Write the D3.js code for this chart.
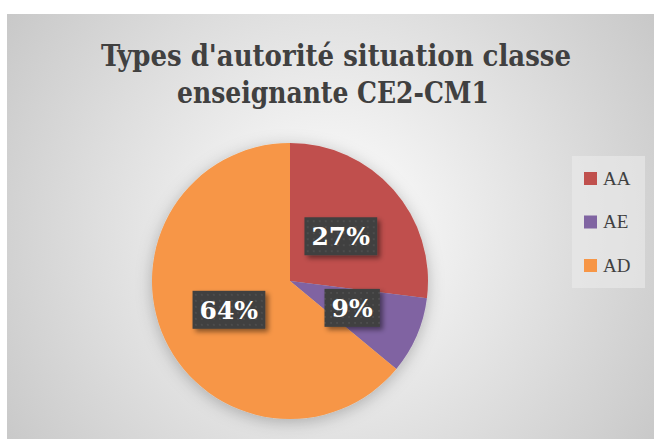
<!DOCTYPE html>
<html>
  <head>
    <meta charset="utf-8">
    <title>Types d'autorité</title>
    <script src="https://cdn.jsdelivr.net/npm/d3@7"></script>
    <style>
      body { margin: 0; background: #fff; }
      svg { display: block; }
    </style>
  </head>
  <body>
    <svg id="chart" width="654" height="439"></svg>
    <script>
      // data
      var categories = ["AA", "AE", "AD"];
      var values = [27, 9, 64];
      var colours = ["#C0504D", "#8064A2", "#F79646"];
      var titleLines = ["Types d'autorité situation classe", "enseignante CE2-CM1"];

      var svg = d3.select("#chart");
      var defs = svg.append("defs");

      // background gradient
      var bg = defs.append("radialGradient")
        .attr("id", "bg")
        .attr("gradientUnits", "userSpaceOnUse")
        .attr("cx", 330).attr("cy", 230).attr("r", 420);
      bg.append("stop").attr("offset", "0%").attr("stop-color", "#ffffff");
      bg.append("stop").attr("offset", "100%").attr("stop-color", "#c4c4c4");

      // label box pattern
      var pat = defs.append("pattern")
        .attr("id", "dots")
        .attr("patternUnits", "userSpaceOnUse")
        .attr("width", 6).attr("height", 6);
      pat.append("rect").attr("width", 6).attr("height", 6).attr("fill", "#3f3f3f");
      pat.append("rect").attr("x", 2).attr("y", 2).attr("width", 2).attr("height", 2).attr("fill", "#4d4d4d");

      var shadow = defs.append("filter").attr("id", "shadow")
        .attr("x", "-30%").attr("y", "-30%").attr("width", "160%").attr("height", "160%");
      shadow.append("feDropShadow")
        .attr("dx", 3).attr("dy", 3).attr("stdDeviation", 2.5)
        .attr("flood-color", "#000").attr("flood-opacity", 0.45);

      var pieShadow = defs.append("filter").attr("id", "pieShadow")
        .attr("x", "-30%").attr("y", "-30%").attr("width", "160%").attr("height", "160%");
      pieShadow.append("feDropShadow")
        .attr("dx", 0).attr("dy", 3).attr("stdDeviation", 8)
        .attr("flood-color", "#000").attr("flood-opacity", 0.25);

      svg.append("rect")
        .attr("x", 7).attr("y", 14)
        .attr("width", 647).attr("height", 425)
        .attr("fill", "url(#bg)");

      // title
      var titleWidths = [470, 312];
      var titleX = [336, 333];
      svg.append("text")
        .attr("text-anchor", "middle")
        .style("font-family", "'DejaVu Serif Condensed', 'DejaVu Serif', serif")
        .style("font-weight", "bold")
        .style("font-size", "30px")
        .style("fill", "#404040")
        .selectAll("tspan")
        .data(titleLines)
        .enter().append("tspan")
          .attr("x", function(d, i) { return titleX[i]; })
          .attr("y", function(d, i) { return 66 + i * 37; })
          .attr("textLength", function(d, i) { return titleWidths[i]; })
          .attr("lengthAdjust", "spacingAndGlyphs")
          .text(function(d) { return d; });

      // pie
      var cx = 290, cy = 281, radius = 138;
      var pie = d3.pie().sort(null).value(function(d) { return d; });
      var arc = d3.arc().innerRadius(0).outerRadius(radius);
      var arcs = pie(values);

      var pieGroup = svg.append("g")
        .attr("transform", "translate(" + cx + "," + cy + ")");
      pieGroup.append("g")
        .attr("filter", "url(#pieShadow)")
        .selectAll("path")
        .data(arcs)
        .enter().append("path")
          .attr("d", arc)
          .attr("fill", function(d, i) { return colours[i]; });

      // labels
      var labelArc = d3.arc().innerRadius(radius * 0.49).outerRadius(radius * 0.49);
      var labelFmt = function(v) { return v + "%"; };
      var labels = pieGroup.selectAll(".label")
        .data(arcs)
        .enter().append("g")
          .attr("class", "label")
          .attr("transform", function(d) {
            var c = labelArc.centroid(d);
            return "translate(" + c[0] + "," + c[1] + ")";
          });
      labels.append("text")
        .attr("text-anchor", "middle")
        .attr("dy", "0.36em")
        .style("font-family", "'DejaVu Serif', serif")
        .style("font-weight", "bold")
        .style("font-size", "25px")
        .style("fill", "#ffffff")
        .text(function(d) { return labelFmt(d.data); });
      labels.each(function() {
        var g = d3.select(this);
        var b = g.select("text").node().getBBox();
        g.insert("rect", "text")
          .attr("x", b.x - 7).attr("y", -19)
          .attr("width", b.width + 14).attr("height", 38)
          .attr("fill", "url(#dots)")
          .attr("filter", "url(#shadow)");
      });

      // legend
      var legend = svg.append("g").attr("transform", "translate(572,156)");
      legend.append("rect")
        .attr("width", 73).attr("height", 132)
        .attr("fill", "#ebebeb").attr("opacity", 0.6);
      var items = legend.selectAll(".item")
        .data(categories)
        .enter().append("g")
          .attr("transform", function(d, i) { return "translate(12," + (22 + i * 43.5) + ")"; });
      items.append("rect")
        .attr("y", -6).attr("width", 13).attr("height", 13)
        .attr("fill", function(d, i) { return colours[i]; });
      items.append("text")
        .attr("x", 19).attr("dy", "0.36em")
        .style("font-family", "'Liberation Serif', serif")
        .style("font-size", "19px")
        .style("fill", "#404040")
        .text(function(d) { return d; });
    </script>
  </body>
</html>
